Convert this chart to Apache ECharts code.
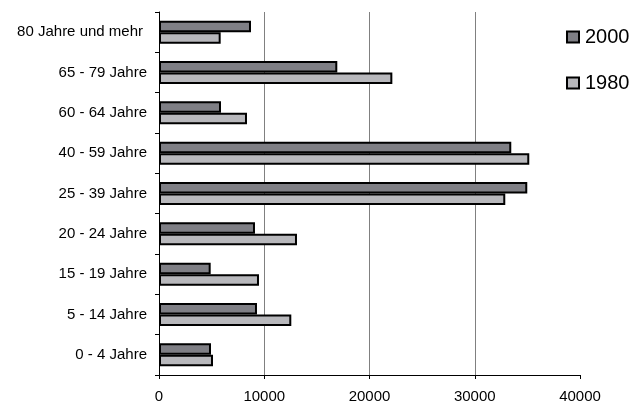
<!DOCTYPE html>
<html>
<head>
<meta charset="utf-8">
<script src="https://cdn.jsdelivr.net/npm/echarts@6/dist/echarts.min.js"></script>
<style>
  html, body { margin: 0; padding: 0; background: #fff; }
  #chart { width: 632px; height: 404px; }
</style>
</head>
<body>
<div id="chart"></div>
<script>
// Age groups, listed from the bottom of the chart to the top
const categories = ['0 - 4 Jahre', '5 - 14 Jahre', '15 - 19 Jahre', '20 - 24 Jahre', '25 - 39 Jahre',
                    '40 - 59 Jahre', '60 - 64 Jahre', '65 - 79 Jahre', '80 Jahre und mehr'];
const values2000 = [4940, 9310, 4910, 9120, 34990, 33470, 5890, 16940, 8740];
const values1980 = [5130, 12570, 9500, 13110, 32900, 35180, 8360, 22170, 5860];
const xTicks = [0, 10000, 20000, 30000, 40000];

const font = '"Liberation Sans", Arial, sans-serif';
const chart = echarts.init(document.getElementById('chart'), null, { renderer: 'canvas' });

chart.setOption({
  backgroundColor: '#ffffff',
  animation: false,
  textStyle: { fontFamily: font, color: '#000' },
  grid: { left: 159, right: 52, top: 12, bottom: 28.5, containLabel: false },
  legend: {
    data: ['2000', '1980'],
    orient: 'vertical',
    left: 561,
    top: 22,
    icon: 'rect',
    itemWidth: 12,
    itemHeight: 11,
    itemGap: 26,
    textStyle: { fontFamily: font, fontSize: 20, color: '#000', padding: [0, 0, 0, 1] }
  },
  xAxis: {
    type: 'value',
    min: xTicks[0],
    max: xTicks[xTicks.length - 1],
    interval: 10000,
    axisLine: { show: true, lineStyle: { color: '#000', width: 1 } },
    axisTick: { show: true, length: 4, lineStyle: { color: '#000' } },
    axisLabel: { fontFamily: font, fontSize: 15, color: '#000', margin: 14, formatter: v => String(v) },
    splitLine: { show: true, showMinLine: false, showMaxLine: false, lineStyle: { color: '#808080', width: 1 } }
  },
  yAxis: {
    type: 'category',
    data: categories,
    boundaryGap: true,
    axisLine: { show: true, lineStyle: { color: '#000', width: 1 } },
    axisTick: { show: true, length: 4, lineStyle: { color: '#000' } },
    axisLabel: {
      fontFamily: font, fontSize: 15, color: '#000', margin: 12,
      formatter: v => v === '80 Jahre und mehr' ? '{p|' + v + '}' : v,
      rich: { p: { fontFamily: font, fontSize: 15, color: '#000', padding: [0, 4, 0, 0] } }
    },
    splitLine: { show: false }
  },
  series: [
    {
      name: '2000',
      type: 'bar',
      data: values2000,
      barWidth: 11.5,
      barGap: '0%',
      itemStyle: { color: '#7f7f85', borderColor: '#000', borderWidth: 2 }
    },
    {
      name: '1980',
      type: 'bar',
      data: values1980,
      barWidth: 11.5,
      barGap: '0%',
      itemStyle: { color: '#b8b8bc', borderColor: '#000', borderWidth: 2 }
    }
  ]
});
</script>
</body>
</html>
